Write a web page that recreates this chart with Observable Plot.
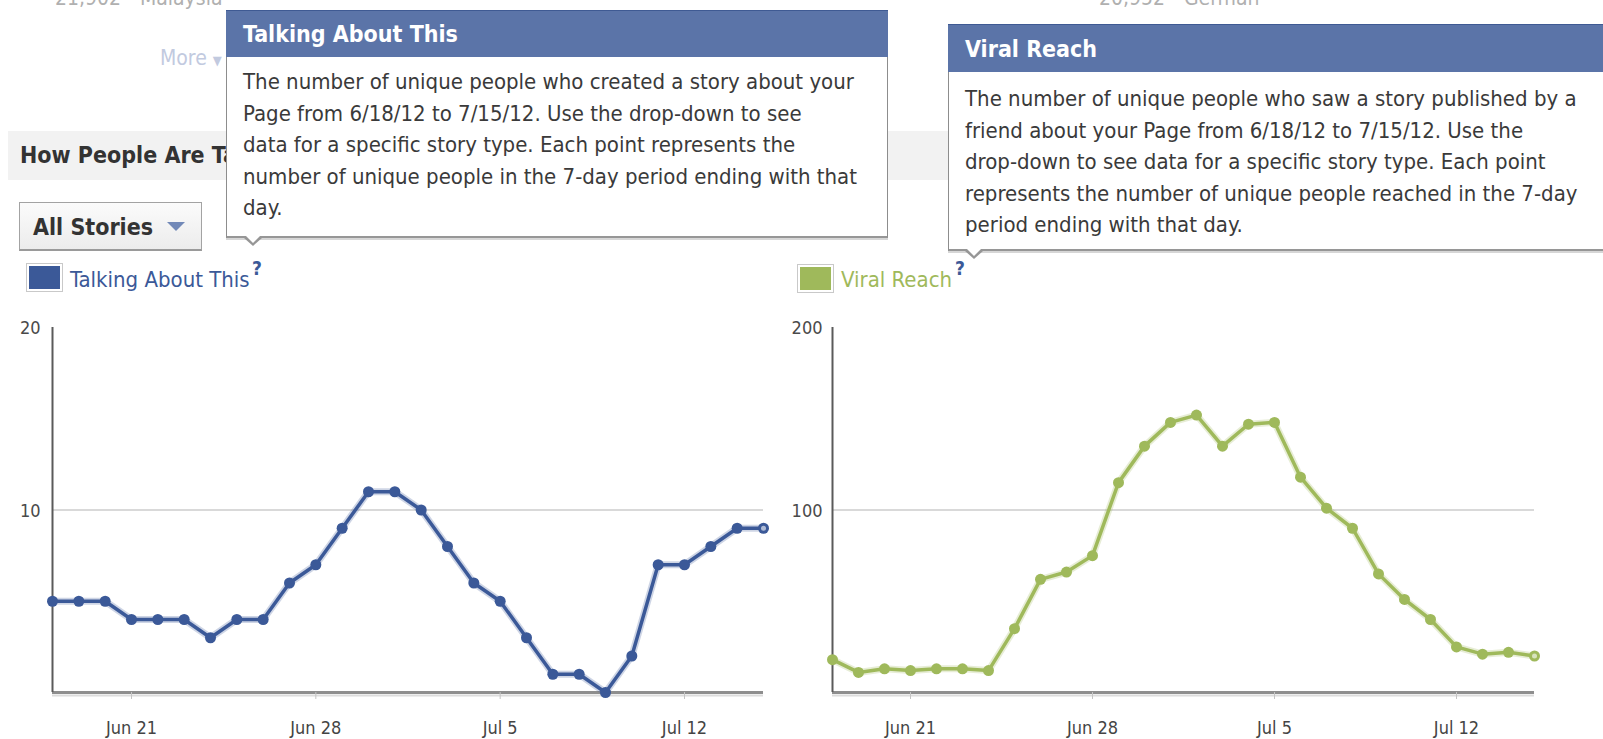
<!DOCTYPE html>
<html>
<head>
<meta charset="utf-8">
<script src="https://cdn.jsdelivr.net/npm/d3@7"></script>
<script src="https://cdn.jsdelivr.net/npm/@observablehq/plot@0.6"></script>
<style>
  html, body { margin:0; padding:0; background:#fff; }
  body { width:1603px; height:739px; position:relative; overflow:hidden;
         font-family:"DejaVu Sans Condensed","DejaVu Sans",sans-serif; font-stretch:condensed; }
  .abs { position:absolute; white-space:nowrap; }
  .faded { color:#b0b0b0; font-size:21px; }
  .more { color:#c2cadf; font-size:21px; }
  .band { position:absolute; left:8px; top:131px; width:1620px; height:49px; background:#f2f2f2; }
  .band span { position:absolute; left:12px; top:0; width:206px; overflow:hidden; white-space:nowrap;
               line-height:49px; font-weight:bold; font-size:23px; color:#333; }
  .btn { position:absolute; left:19px; top:202px; width:183px; height:49px; box-sizing:border-box;
         border:1px solid #a3a3a3; border-bottom:2px solid #9a9a9a;
         background:linear-gradient(#fbfbfb,#ececec); }
  .btn span { position:absolute; left:13px; top:0; line-height:48px; font-weight:bold; font-size:23px; color:#333; }
  .btn i { position:absolute; left:147px; top:19px; width:0; height:0;
           border-left:9px solid transparent; border-right:9px solid transparent; border-top:9px solid #7289b8; }
  .sw { position:absolute; width:37px; height:29px; box-sizing:border-box; border:1px solid #c9c9c9; background:#fff; padding:2px; }
  .sw div { width:100%; height:100%; }
  .leg { position:absolute; font-size:22px; white-space:nowrap; }
  .q { position:absolute; font-size:19px; font-weight:bold; color:#3b5998; }
  .tip { position:absolute; box-sizing:border-box; background:#fff; z-index:5;
         border-left:1px solid #8d8d8d; border-right:1px solid #8d8d8d; border-bottom:2px solid #969696;
         box-shadow:0 2px 0 #d6d6d6; }
  .tip .hd { background:#5b74a8; border-top:1px solid #3f5a93; color:#fff; font-weight:bold; font-size:23px;
             box-sizing:border-box; padding-left:17px; margin:0 -1px; }
  .tip .bd { color:#3a3a3a; font-size:22px; line-height:31.6px; padding-left:16px; white-space:nowrap; box-sizing:border-box; }
  .ptr { position:absolute; width:0; height:0; z-index:6; }
  .chart { position:absolute; top:300px; }
</style>
</head>
<body>
<div class="abs faded" style="left:55px; top:-14px;">21,902 - Malaysia</div>
<div class="abs faded" style="left:1099px; top:-14px;">20,952 - German</div>
<div class="abs more" style="left:160px; top:46px;">More <span style="font-size:13px;">&#9660;</span></div>

<div class="band"><span>How People Are Talking About This</span></div>

<div class="btn"><span>All Stories</span><i></i></div>

<div class="sw" style="left:26px; top:263px;"><div style="background:#3b5998;"></div></div>
<div class="leg" style="left:70px; top:267px; color:#3b5998;">Talking About This</div>
<div class="q" style="left:252px; top:257px;">?</div>

<div class="sw" style="left:797px; top:264px;"><div style="background:#9fb95b;"></div></div>
<div class="leg" style="left:841px; top:267px; color:#9fb95b;">Viral Reach</div>
<div class="q" style="left:955px; top:257px;">?</div>

<div class="tip" style="left:226px; top:10px; width:662px; height:228px;">
  <div class="hd" style="height:47px; line-height:46px;">Talking About This</div>
  <div class="bd" style="padding-top:9px;">The number of unique people who created a story about your<br>Page from 6/18/12 to 7/15/12. Use the drop-down to see<br>data for a specific story type. Each point represents the<br>number of unique people in the 7-day period ending with that<br>day.</div>
</div>
<div class="ptr" style="left:244px; top:238px; border-left:9px solid transparent; border-right:9px solid transparent; border-top:8px solid #969696;"></div>
<div class="ptr" style="left:246px; top:236px; border-left:7px solid transparent; border-right:7px solid transparent; border-top:7px solid #fff;"></div>

<div class="tip" style="left:948px; top:24px; width:662px; height:227px;">
  <div class="hd" style="height:48px; line-height:48px;">Viral Reach</div>
  <div class="bd" style="padding-top:11px;">The number of unique people who saw a story published by a<br>friend about your Page from 6/18/12 to 7/15/12. Use the<br>drop-down to see data for a specific story type. Each point<br>represents the number of unique people reached in the 7-day<br>period ending with that day.</div>
</div>
<div class="ptr" style="left:965px; top:251px; border-left:9px solid transparent; border-right:9px solid transparent; border-top:8px solid #969696;"></div>
<div class="ptr" style="left:967px; top:249px; border-left:7px solid transparent; border-right:7px solid transparent; border-top:7px solid #fff;"></div>

<div id="left" class="chart" style="left:0px;"></div>
<div id="right" class="chart" style="left:780px;"></div>

<script>
const dates = ["2012-06-18","2012-06-19","2012-06-20","2012-06-21","2012-06-22","2012-06-23","2012-06-24",
  "2012-06-25","2012-06-26","2012-06-27","2012-06-28","2012-06-29","2012-06-30","2012-07-01",
  "2012-07-02","2012-07-03","2012-07-04","2012-07-05","2012-07-06","2012-07-07","2012-07-08",
  "2012-07-09","2012-07-10","2012-07-11","2012-07-12","2012-07-13","2012-07-14","2012-07-15"];
const talkingAboutThis = [5,5,5,4,4,4,3,4,4,6,7,9,11,11,10,8,6,5,3,1,1,0,2,7,7,8,9,9];
const viralReach = [18,11,13,12,13,13,12,35,62,66,75,115,135,148,152,135,147,148,118,101,90,65,51,40,25,21,22,20];
const xTickLabels = ["2012-06-21","2012-06-28","2012-07-05","2012-07-12"];
const leftYTicks = [10, 20];
const rightYTicks = [100, 200];

const parse = s => new Date(s + "T00:00:00Z");
const xTicks = xTickLabels.map(parse);

function chart(values, yMax, yTicks, color, width, marginRight, tickPad) {
  const data = dates.map((d, i) => ({date: parse(d), value: values[i]}));
  const last = data[data.length - 1];
  return Plot.plot({
    width, height: 439,
    marginLeft: 52, marginRight, marginTop: 27, marginBottom: 47,
    style: "font-family:'DejaVu Sans Condensed','DejaVu Sans',sans-serif;font-stretch:condensed;font-size:18px;background:transparent;overflow:visible;color:#555;",
    x: {type: "utc", domain: [data[0].date, last.date]},
    y: {domain: [0, yMax]},
    marks: [
      Plot.ruleY([yTicks[0]], {stroke: "#d9d9d9", strokeWidth: 2}),
      Plot.ruleY([0], {stroke: "#dcdcdc", strokeWidth: 2, dy: 3}),
      Plot.ruleY([0], {stroke: "#8e8e8e", strokeWidth: 3}),
      Plot.ruleX([data[0].date], {y1: 0, y2: yMax, stroke: "#5a5a5a", strokeWidth: 2}),
      Plot.axisX({ticks: xTicks, tickFormat: "%b %-d", tickSize: 7, tickPadding: 22, stroke: "#c4c4c4", fill: "#444", label: null, fontSize: 18}),
      Plot.axisY({ticks: yTicks, tickSize: 0, tickPadding: tickPad, fill: "#4a4a4a", label: null, fontSize: 18, dy: 1}),
      Plot.line(data, {x: "date", y: "value", stroke: color, strokeOpacity: 0.25, strokeWidth: 7, strokeLinejoin: "round"}),
      Plot.line(data, {x: "date", y: "value", stroke: color, strokeWidth: 3.5, strokeLinejoin: "round"}),
      Plot.dot(data, {x: "date", y: "value", r: 5.5, fill: color, stroke: "none"}),
      Plot.dot([last], {x: "date", y: "value", r: 2.5, fill: "#ffffff", fillOpacity: 0.6, stroke: "none"})
    ]
  });
}

document.getElementById("left").append(chart(talkingAboutThis, 20, leftYTicks, "#3b5998", 790, 27, 12));
document.getElementById("right").append(chart(viralReach, 200, rightYTicks, "#9fb95b", 823, 69, 10));
</script>
</body>
</html>
